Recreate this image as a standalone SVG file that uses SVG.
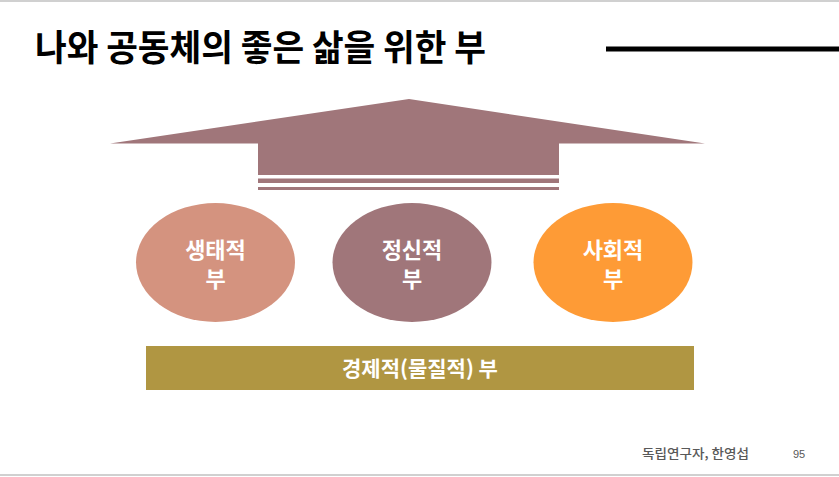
<svg xmlns="http://www.w3.org/2000/svg" width="839" height="477" viewBox="0 0 839 477">
<style>
.t{font-family:"Noto Sans CJK KR","Noto Sans",sans-serif;font-weight:bold;fill:#ffffff;text-anchor:middle}
.n{font-size:22px}
.f{font-family:"Noto Sans CJK KR","Noto Sans",sans-serif;fill:#595959}
</style>
<rect x="0" y="0" width="839" height="477" fill="#ffffff"/>
<rect x="0" y="0" width="839" height="2" fill="#d0d0d0"/>
<rect x="0" y="474" width="839" height="2" fill="#d0d0d0"/>
<text x="35" y="61" font-family="'Noto Sans CJK KR','Noto Sans',sans-serif" font-weight="bold" font-size="36" fill="#000000" textLength="451" lengthAdjust="spacingAndGlyphs">나와 공동체의 좋은 삶을 위한 부</text>
<rect x="606" y="46.5" width="233" height="5" fill="#000000"/>
<g id="arrow">
<polygon points="409,99 705,143.5 559,143.5 559,175 258,175 258,143.5 110,143.5" fill="#A0767A"/>
<rect x="258" y="178.5" width="301" height="4.5" fill="#A0767A"/>
<rect x="258" y="187" width="301" height="3" fill="#A0767A"/>
</g>
<g id="connectors"></g>
<g id="eco">
<ellipse cx="215.5" cy="262.5" rx="79.5" ry="59.5" fill="#D4937F"/>
<text class="t n" x="215.5" y="258">생태적</text>
<text class="t n" x="215.5" y="287">부</text>
</g>
<g id="mind">
<ellipse cx="412" cy="262.5" rx="79.5" ry="59.5" fill="#A0767A"/>
<text class="t n" x="412" y="258">정신적</text>
<text class="t n" x="412" y="287">부</text>
</g>
<g id="social">
<ellipse cx="613" cy="262.5" rx="79.5" ry="59.5" fill="#FE9B36"/>
<text class="t n" x="613" y="258">사회적</text>
<text class="t n" x="613" y="287">부</text>
</g>
<g id="economy">
<rect x="146" y="346" width="548" height="44" fill="#B09642"/>
<text class="t" x="420" y="376" font-size="21">경제적(물질적) 부</text>
</g>
<text class="f" x="642" y="458" font-size="13" font-weight="500" textLength="107" lengthAdjust="spacingAndGlyphs">독립연구자, 한영섭</text>
<text x="793" y="458" font-family="'Liberation Sans',sans-serif" font-size="11" fill="#595959">95</text>
</svg>
